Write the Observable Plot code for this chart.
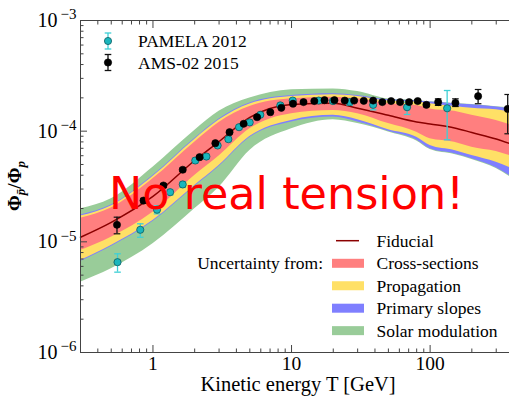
<!DOCTYPE html>
<html>
<head>
<meta charset="utf-8">
<script src="https://cdn.jsdelivr.net/npm/d3@7"></script>
<script src="https://cdn.jsdelivr.net/npm/@observablehq/plot@0.6"></script>
<style>
  html, body { margin: 0; padding: 0; background: #fff; }
  #chart svg { display: block; }
</style>
</head>
<body>
<div id="chart"></div>
<script>
// ---- Model: antiproton-to-proton ratio vs kinetic energy [GeV] ----
const energy   = [0.3, 0.5, 1, 2, 3, 5, 10, 20, 30, 50, 80, 100, 150, 200, 300, 374];
const fiducial = [1.10e-5, 1.50e-5, 2.57e-5, 5.43e-5, 8.07e-5, 1.33e-4, 1.74e-4, 1.79e-4, 1.61e-4, 1.39e-4, 1.21e-4, 1.16e-4, 1.07e-4, 9.72e-5, 8.50e-5, 7.74e-5];
// cumulative uncertainty envelopes (outermost first)
const solarHi  = [1.99e-5, 2.45e-5, 4.73e-5, 1.014e-4, 1.51e-4, 1.99e-4, 2.37e-4, 2.41e-4, 2.28e-4, 1.95e-4, 1.89e-4, 1.84e-4, 1.78e-4, 1.74e-4, 1.66e-4, 1.62e-4];
const solarLo  = [4.32e-6, 5.71e-6, 9.60e-6, 1.99e-5, 3.12e-5, 6.69e-5, 1.05e-4, 1.27e-4, 1.17e-4, 9.83e-5, 8.15e-5, 6.83e-5, 6.16e-5, 5.55e-5, 4.60e-5, 3.89e-5];
const slopesHi = [1.75e-5, 2.15e-5, 3.98e-5, 8.59e-5, 1.29e-4, 1.80e-4, 2.10e-4, 2.18e-4, 2.10e-4, 1.92e-4, 1.88e-4, 1.83e-4, 1.77e-4, 1.73e-4, 1.65e-4, 1.60e-4];
const slopesLo = [6.64e-6, 9.08e-6, 1.527e-5, 3.16e-5, 4.80e-5, 8.77e-5, 1.21e-4, 1.34e-4, 1.21e-4, 1.00e-4, 8.32e-5, 6.93e-5, 6.25e-5, 5.63e-5, 4.67e-5, 3.98e-5];
const propHi   = [1.71e-5, 2.11e-5, 3.89e-5, 8.41e-5, 1.26e-4, 1.76e-4, 2.06e-4, 2.13e-4, 2.06e-4, 1.87e-4, 1.83e-4, 1.77e-4, 1.67e-4, 1.61e-4, 1.56e-4, 1.48e-4];
const propLo   = [6.78e-6, 9.27e-6, 1.56e-5, 3.23e-5, 4.90e-5, 8.95e-5, 1.25e-4, 1.39e-4, 1.27e-4, 1.03e-4, 8.82e-5, 7.42e-5, 6.69e-5, 6.03e-5, 5.24e-5, 4.70e-5];
const xsecHi   = [1.63e-5, 2.02e-5, 3.71e-5, 7.95e-5, 1.20e-4, 1.67e-4, 1.96e-4, 2.03e-4, 1.96e-4, 1.77e-4, 1.71e-4, 1.59e-4, 1.51e-4, 1.39e-4, 1.25e-4, 1.15e-4];
const xsecLo   = [8.35e-6, 1.10e-5, 1.85e-5, 3.98e-5, 5.97e-5, 1.05e-4, 1.44e-4, 1.54e-4, 1.44e-4, 1.17e-4, 9.79e-5, 8.53e-5, 7.95e-5, 7.17e-5, 6.55e-5, 6.03e-5];

// ---- Data: PAMELA 2012 ----
const pamelaE     = [0.555, 0.81, 1.07, 1.33, 1.64, 2.02, 2.43, 2.93, 3.50, 4.18, 4.99, 5.95, 8.30, 10.2, 15.7, 19.9, 26.3, 38.8, 68.2, 132.7];
const pamelaRatio = [6.55e-6, 1.285e-5, 1.95e-5, 2.81e-5, 3.30e-5, 5.43e-5, 5.90e-5, 7.42e-5, 8.46e-5, 1.086e-4, 1.20e-4, 1.406e-4, 1.71e-4, 1.89e-4, 1.89e-4, 1.87e-4, 1.83e-4, 1.73e-4, 1.647e-4, 1.61e-4];
const pamelaLo    = [5.32e-6, 1.10e-5, 1.79e-5, 2.65e-5, 3.10e-5, 5.15e-5, 5.60e-5, 7.10e-5, 8.10e-5, 1.04e-4, 1.15e-4, 1.35e-4, 1.64e-4, 1.81e-4, 1.80e-4, 1.78e-4, 1.72e-4, 1.56e-4, 1.415e-4, 8.36e-5];
const pamelaHi    = [7.80e-6, 1.455e-5, 2.12e-5, 2.97e-5, 3.50e-5, 5.70e-5, 6.20e-5, 7.75e-5, 8.85e-5, 1.13e-4, 1.25e-4, 1.46e-4, 1.78e-4, 1.97e-4, 1.98e-4, 1.96e-4, 1.94e-4, 1.89e-4, 1.83e-4, 2.33e-4];

// ---- Data: AMS-02 2015 ----
const amsE     = [0.55, 0.855, 1.19, 1.64, 2.17, 2.82, 3.57, 4.51, 5.64, 7.03, 8.44, 10.25, 12.2, 14.6, 17.3, 20.4, 24.2, 28.3, 33.2, 38.8, 45.2, 52.3, 60.7, 70.5, 81.4, 94.0, 114.3, 152.3, 222, 363];
const amsRatio = [1.426e-5, 2.36e-5, 3.23e-5, 4.48e-5, 5.82e-5, 7.79e-5, 9.79e-5, 1.166e-4, 1.337e-4, 1.484e-4, 1.626e-4, 1.77e-4, 1.83e-4, 1.87e-4, 1.905e-4, 1.905e-4, 1.89e-4, 1.89e-4, 1.88e-4, 1.89e-4, 1.83e-4, 1.87e-4, 1.83e-4, 1.83e-4, 1.87e-4, 1.73e-4, 1.83e-4, 1.80e-4, 2.07e-4, 1.59e-4];
const amsLo    = [1.182e-5, 2.25e-5, 3.10e-5, 4.33e-5, 5.66e-5, 7.60e-5, 9.58e-5, 1.143e-4, 1.312e-4, 1.458e-4, 1.60e-4, 1.74e-4, 1.80e-4, 1.84e-4, 1.87e-4, 1.87e-4, 1.855e-4, 1.855e-4, 1.84e-4, 1.85e-4, 1.79e-4, 1.825e-4, 1.78e-4, 1.775e-4, 1.81e-4, 1.665e-4, 1.71e-4, 1.67e-4, 1.77e-4, 9.47e-5];
const amsHi    = [1.67e-5, 2.47e-5, 3.36e-5, 4.63e-5, 5.98e-5, 7.98e-5, 1.00e-4, 1.189e-4, 1.362e-4, 1.51e-4, 1.652e-4, 1.80e-4, 1.86e-4, 1.90e-4, 1.94e-4, 1.94e-4, 1.925e-4, 1.925e-4, 1.92e-4, 1.93e-4, 1.87e-4, 1.915e-4, 1.88e-4, 1.885e-4, 1.93e-4, 1.795e-4, 1.96e-4, 1.96e-4, 2.38e-4, 2.145e-4];

// ---- Axes ----
const xDomain = [0.3, 374];
const yDomain = [1e-6, 1e-3];
const xMajorTicks = [1, 10, 100];
const xMinorTicks = [0.4, 0.5, 0.6, 0.7, 0.8, 0.9, 2, 3, 4, 5, 6, 7, 8, 9, 20, 30, 40, 50, 60, 70, 80, 90, 200, 300];
const xLabelTicks = [1, 5, 10, 50, 100];
const xTickLabels = ["1", "5", "10", "50", "100"];
const yMajorTicks = [1e-6, 1e-5, 1e-4, 1e-3];
const yMinorTicks = [2e-6, 3e-6, 4e-6, 5e-6, 6e-6, 7e-6, 8e-6, 9e-6, 2e-5, 3e-5, 4e-5, 5e-5, 6e-5, 7e-5, 8e-5, 9e-5, 2e-4, 3e-4, 4e-4, 5e-4, 6e-4, 7e-4, 8e-4, 9e-4];
const yTickBase = "10";
const yTickExponents = ["\u22126", "\u22125", "\u22124", "\u22123"];
const xLabel = "Kinetic energy T [GeV]";

// ---- Legend entries ----
const dataLabels = ["PAMELA 2012", "AMS-02 2015"];
const bandLabels = ["Cross-sections", "Propagation", "Primary slopes", "Solar modulation"];
const fiducialLabel = "Fiducial";
const uncertaintyLabel = "Uncertainty from:";
const headline = "No real tension!";

// ---- Colours ----
const cRed = "#ff7f7f", cYellow = "#ffe066", cBlue = "#7f7fff", cGreen = "#99cc99";
const bandColors = [cRed, cYellow, cBlue, cGreen];
const cLine = "#8b0000";
const cCyan = "#1ab6bd", cCyanEdge = "#0d5c60", cCyanBar = "#3fd0d6";
const cAxis = "#444";
const serif = "'Liberation Serif', 'DejaVu Serif', serif";

const bands = energy.map((e, i) => ({
  e, fiducial: fiducial[i],
  solarHi: solarHi[i], solarLo: solarLo[i],
  slopesHi: slopesHi[i], slopesLo: slopesLo[i],
  propHi: propHi[i], propLo: propLo[i],
  xsecHi: xsecHi[i], xsecLo: xsecLo[i]
}));
const pamela = pamelaE.map((e, i) => ({e, r: pamelaRatio[i], lo: pamelaLo[i], hi: pamelaHi[i]}));
const ams = amsE.map((e, i) => ({e, r: amsRatio[i], lo: amsLo[i], hi: amsHi[i]}));

// horizontal error-bar cap, half-width = r
const capSymbol = {
  draw(context, size) {
    const r = Math.sqrt(size / Math.PI);
    context.moveTo(-r, 0);
    context.lineTo(r, 0);
  }
};

const curve = "monotone-x";
const chart = Plot.plot({
  width: 509,
  height: 398,
  marginLeft: 80,
  marginRight: 0,
  marginTop: 20,
  marginBottom: 46,
  style: {fontFamily: serif, fontSize: "17px", background: "#fff", color: "#000", overflow: "visible"},
  x: {type: "log", domain: xDomain},
  y: {type: "log", domain: yDomain},
  marks: [
    Plot.areaY(bands, {x: "e", y1: "solarLo", y2: "solarHi", fill: cGreen, curve}),
    Plot.areaY(bands, {x: "e", y1: "slopesLo", y2: "slopesHi", fill: cBlue, curve}),
    Plot.areaY(bands, {x: "e", y1: "propLo", y2: "propHi", fill: cYellow, curve}),
    Plot.areaY(bands, {x: "e", y1: "xsecLo", y2: "xsecHi", fill: cRed, curve}),
    Plot.lineY(bands, {x: "e", y: "fiducial", stroke: cLine, strokeWidth: 1.5, curve}),

    // PAMELA
    Plot.ruleX(pamela, {x: "e", y1: "lo", y2: "hi", stroke: cCyanBar, strokeWidth: 1.3}),
    Plot.dot(pamela, {x: "e", y: "lo", symbol: capSymbol, r: 3.3, stroke: cCyanBar, fill: "none", strokeWidth: 1.3}),
    Plot.dot(pamela, {x: "e", y: "hi", symbol: capSymbol, r: 3.3, stroke: cCyanBar, fill: "none", strokeWidth: 1.3}),
    Plot.dot(pamela, {x: "e", y: "r", r: 3.6, fill: cCyan, stroke: cCyanEdge, strokeWidth: 0.8}),

    // AMS-02
    Plot.ruleX(ams, {x: "e", y1: "lo", y2: "hi", stroke: "#111", strokeWidth: 1.3}),
    Plot.dot(ams, {x: "e", y: "lo", symbol: capSymbol, r: 3.3, stroke: "#111", fill: "none", strokeWidth: 1.2}),
    Plot.dot(ams, {x: "e", y: "hi", symbol: capSymbol, r: 3.3, stroke: "#111", fill: "none", strokeWidth: 1.2}),
    Plot.dot(ams, {x: "e", y: "r", r: 3.6, fill: "#000", stroke: "#000", strokeWidth: 0.6}),

    // spines (no right spine: the plot is cut at the right edge)
    Plot.ruleX([xDomain[0]], {stroke: cAxis}),
    Plot.ruleY([yDomain[0]], {stroke: cAxis}),
    Plot.ruleY([yDomain[1]], {stroke: cAxis}),

    // inward ticks
    Plot.axisX({anchor: "bottom", ticks: xMajorTicks, tickSize: -7, tickFormat: () => "", label: null, stroke: cAxis}),
    Plot.axisX({anchor: "bottom", ticks: xMinorTicks, tickSize: -3.5, tickFormat: () => "", label: null, stroke: cAxis}),
    Plot.axisX({anchor: "top", ticks: xMajorTicks, tickSize: -7, tickFormat: () => "", label: null, stroke: cAxis}),
    Plot.axisX({anchor: "top", ticks: xMinorTicks, tickSize: -3.5, tickFormat: () => "", label: null, stroke: cAxis}),
    Plot.axisY({anchor: "left", ticks: yMajorTicks, tickSize: -7, tickFormat: () => "", label: null, stroke: cAxis}),
    Plot.axisY({anchor: "left", ticks: yMinorTicks, tickSize: -3.5, tickFormat: () => "", label: null, stroke: cAxis}),

    // tick labels
    Plot.axisX({anchor: "bottom", ticks: xLabelTicks, tickSize: 0, tickPadding: 4, fontSize: 19.5,
      tickFormat: d => xTickLabels[xLabelTicks.indexOf(d)], label: null}),
    Plot.text(yMajorTicks, {y: d => d, frameAnchor: "left", text: () => yTickBase, textAnchor: "end", dx: -23, fontSize: 20}),
    Plot.text(yMajorTicks, {y: d => d, frameAnchor: "left", text: (d, i) => yTickExponents[i], textAnchor: "end", dx: -4, dy: -6, fontSize: 15}),
    Plot.text([xLabel], {frameAnchor: "bottom", text: d => d, dx: 3, dy: 38, fontSize: 20.5})
  ]
});

document.getElementById("chart").appendChild(chart);

// ---- Annotations drawn on top of the plot ----
const svg = d3.select(chart);

// y-axis label: Φ_p̄ / Φ_p
const yl = svg.append("text")
  .attr("transform", "translate(21,186) rotate(-90)")
  .attr("text-anchor", "middle")
  .attr("font-family", serif)
  .attr("font-weight", "bold")
  .attr("font-size", 19);
yl.append("tspan").text("\u03A6");
yl.append("tspan").attr("dy", 4).attr("font-size", 13).attr("font-style", "italic").text("p\u0304");
yl.append("tspan").attr("dy", -4).text("/\u03A6");
yl.append("tspan").attr("dy", 4).attr("font-size", 13).attr("font-style", "italic").text("p");

// data legend (upper left)
const dl = svg.append("g").attr("font-family", serif).attr("font-size", 17.5).attr("text-anchor", "start");
const dataStyles = [
  {fill: cCyan, edge: cCyanEdge, bar: cCyanBar},
  {fill: "#000", edge: "#000", bar: "#111"}
];
dataLabels.forEach((label, i) => {
  const y = 41 + i * 21.5, x = 108, s = dataStyles[i];
  dl.append("line").attr("x1", x).attr("x2", x).attr("y1", y - 8).attr("y2", y + 8).attr("stroke", s.bar).attr("stroke-width", 1.3);
  dl.append("line").attr("x1", x - 3.3).attr("x2", x + 3.3).attr("y1", y - 8).attr("y2", y - 8).attr("stroke", s.bar).attr("stroke-width", 1.3);
  dl.append("line").attr("x1", x - 3.3).attr("x2", x + 3.3).attr("y1", y + 8).attr("y2", y + 8).attr("stroke", s.bar).attr("stroke-width", 1.3);
  dl.append("circle").attr("cx", x).attr("cy", y).attr("r", 3.6).attr("fill", s.fill).attr("stroke", s.edge).attr("stroke-width", 0.8);
  dl.append("text").attr("x", 138).attr("y", y).attr("dy", "0.35em").text(label);
});

// model legend (lower right)
const ml = svg.append("g").attr("font-family", serif).attr("font-size", 17.5).attr("text-anchor", "start");
ml.append("line").attr("x1", 336).attr("x2", 359).attr("y1", 240.7).attr("y2", 240.7).attr("stroke", cLine).attr("stroke-width", 1.5);
ml.append("text").attr("x", 376.5).attr("y", 240.7).attr("dy", "0.35em").text(fiducialLabel);
ml.append("text").attr("x", 323).attr("y", 263.3).attr("dy", "0.35em").attr("text-anchor", "end").text(uncertaintyLabel);
bandLabels.forEach((label, i) => {
  const y = 263.3 + i * 22.45;
  ml.append("rect").attr("x", 332).attr("y", y - 4.5).attr("width", 32).attr("height", 9).attr("fill", bandColors[i]);
  ml.append("text").attr("x", 376.5).attr("y", y).attr("dy", "0.35em").text(label);
});

// headline
svg.append("text")
  .attr("x", 109).attr("y", 208.5)
  .attr("text-anchor", "start")
  .attr("font-family", "'DejaVu Sans', sans-serif")
  .attr("font-size", 44.5)
  .attr("fill", "#ff0000")
  .text(headline);
</script>
</body>
</html>
